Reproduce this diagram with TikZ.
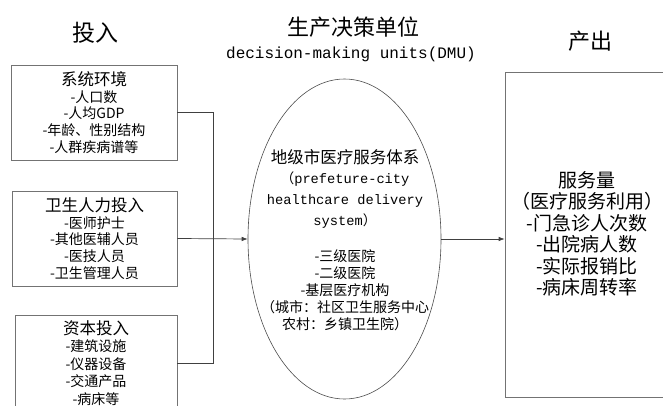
\documentclass[tikz,border=0pt]{standalone}
\usepackage{fontspec}
\setmainfont{Noto Sans CJK SC}
\setmonofont{Liberation Mono}
\usetikzlibrary{shapes.geometric,arrows.meta}
\newcommand{\mtx}{\ttfamily\fontsize{13.7}{20.5}\selectfont}
\newcommand{\hdx}{\fontsize{16.5}{17}\selectfont}
\tikzset{
  box/.style={draw=black!55,line width=0.7pt,rectangle,inner sep=0pt,align=center,font=\fontsize{14}{16.6}\selectfont},
  conn/.style={draw=black!75,line width=0.7pt},
  arr/.style={conn,-{Latex[length=6pt,width=4.5pt]}},
  title/.style={inner sep=0pt,font=\fontsize{23}{26}\selectfont},
}
\begin{document}
\begin{tikzpicture}[x=1pt,y=-1pt]
\useasboundingbox (0,0) rectangle (663,406);
% titles
\node[title] (tin) at (95,33) {投入};
\node[title,font=\fontsize{22}{24}\selectfont] (tdmu) at (353,27) {生产决策单位};
\node[inner sep=0pt,font=\ttfamily\fontsize{16}{18}\selectfont] (tdmuen) at (351,54) {decision-making units(DMU)};
\node[title,font=\fontsize{22}{24}\selectfont] (tout) at (590,41) {产出};
% input boxes
\node[box,minimum width=166,minimum height=95] (b1) at (94,112.5)
  {{\hdx 系统环境}\\ -人口数\\ -人均GDP\\ -年龄、性别结构\\ -人群疾病谱等};
\node[box,minimum width=165,minimum height=95] (b2) at (94.5,238.5)
  {{\hdx 卫生人力投入}\\ -医师护士\\ -其他医辅人员\\ -医技人员\\ -卫生管理人员};
\node[box,minimum width=162,minimum height=96,font=\fontsize{14}{17.5}\selectfont] (b3) at (96,363)
  {{\hdx 资本投入}\\ -建筑设施\\ -仪器设备\\ -交通产品\\ -病床等};
% DMU ellipse
\node[draw=black!70,line width=0.6pt,ellipse,minimum width=193,minimum height=320,inner sep=0pt] (ell) at (344.5,239) {};
\node[inner sep=0pt,align=center,font=\fontsize{14}{16.8}\selectfont] (elltxt) at (345,240)
  {{\fontsize{16.5}{20}\selectfont 地级市医疗服务体系}\\[3pt]
   {\mtx{\rmfamily （}prefeture-city}\\[4pt]
   {\mtx healthcare delivery}\\[4pt]
   {\mtx system{\rmfamily ）}}\\[20pt]
   -三级医院\\ -二级医院\\ -基层医疗机构\\ （城市：社区卫生服务中心\\ 农村：乡镇卫生院）};
% output box
\node[box,minimum width=170,minimum height=325] (out) at (590,234.5) {};
\node[inner sep=0pt,align=center,font=\fontsize{19}{21.5}\selectfont] (outtxt) at (587,234)
  {服务量\\ （医疗服务利用）\\ -门急诊人次数\\ -出院病人数\\ -实际报销比\\ -病床周转率};
% connectors
\coordinate (jtop) at (213,112.5);
\coordinate (jbot) at (213,363);
\draw[conn] (b1.east) -- (jtop) -- (jbot) -- (b3.east);
\draw[arr] (b2.east) -- (ell.west);
\draw[arr] (ell.east) -- (ell.east -| out.west);
\end{tikzpicture}
\end{document}
